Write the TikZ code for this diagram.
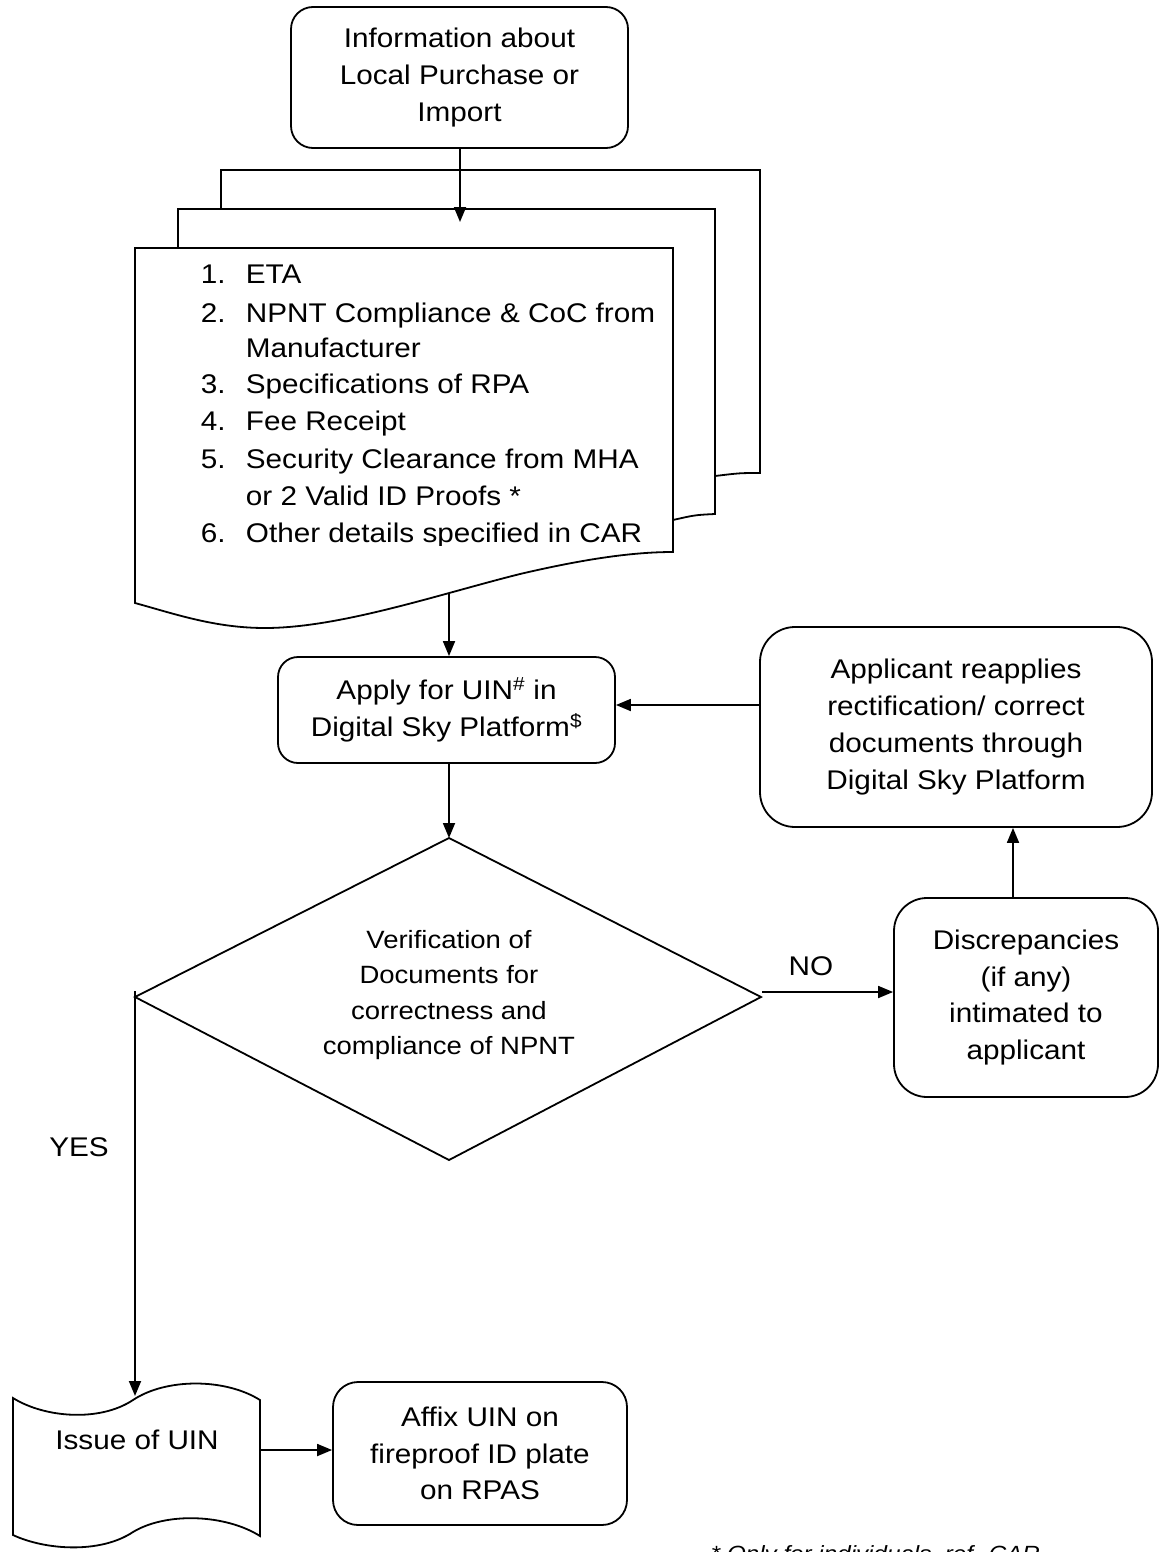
\documentclass[tikz,border=0pt]{standalone}
\usepackage{fontspec}
\setmainfont{Liberation Sans}[FakeStretch=1.1]
\usetikzlibrary{arrows.meta}
\begin{document}
\begin{tikzpicture}[x=1pt,y=-1pt,
  line width=1.8pt,
  every node/.style={font=\fontsize{27}{36.8}\selectfont, inner sep=0pt},
  rbox/.style={draw, rounded corners=22pt, align=center},
  arr/.style={-{Triangle[length=15pt,width=12pt]}},
  smallfont/.style={font=\fontsize{25}{35.3}\selectfont},
  footfont/.style={font=\fontsize{22}{26}\selectfont\itshape},
  ]
\useasboundingbox (0,0) rectangle (1162,1552);

% top box
\node[rbox, minimum width=337pt, minimum height=141pt] (info) at (459.5,77.5)
  {Information about\\Local Purchase or\\Import};

% stacked documents
\draw (221,209) -- (221,170) -- (760,170) -- (760,473) .. controls (740,473) .. (715,476);
\draw (178,248) -- (178,209) -- (715,209) -- (715,514) .. controls (695,515) .. (673,520);
\draw (135,248) -- (673,248) -- (673,552)
  .. controls (630,552) and (580,560) .. (520,574)
  .. controls (440,594) and (340,628) .. (265,628)
  .. controls (215,628) and (175,614) .. (135,603) -- cycle;
\coordinate (docin) at (460,222);
\coordinate (docbot) at (449,593);

\begin{scope}
\clip (136,249) rectangle (672,545);
\node[anchor=base west] (n1) at (200,283) {1.};
\node[anchor=base west] (t1) at (245,283) {ETA};
\node[anchor=base west] (n2) at (200,322) {2.};
\node[anchor=base west] (t2) at (245,322) {NPNT Compliance \& CoC from};
\node[anchor=base west] (t2b) at (245,357) {Manufacturer};
\node[anchor=base west] (n3) at (200,393) {3.};
\node[anchor=base west] (t3) at (245,393) {Specifications of RPA};
\node[anchor=base west] (n4) at (200,430) {4.};
\node[anchor=base west] (t4) at (245,430) {Fee Receipt};
\node[anchor=base west] (n5) at (200,468) {5.};
\node[anchor=base west] (t5) at (245,468) {Security Clearance from MHA};
\node[anchor=base west] (t5b) at (245,505) {or 2 Valid ID Proofs *};
\node[anchor=base west] (n6) at (200,542) {6.};
\node[anchor=base west] (t6) at (245,542) {Other details specified in CAR};
\end{scope}

% apply box
\node[rbox, rounded corners=20pt, minimum width=337pt, minimum height=106pt] (apply) at (446.5,710)
  {Apply for UIN\textsuperscript{\#} in\\Digital Sky Platform\textsuperscript{\$}};

% reapply box
\node[rbox, rounded corners=35pt, minimum width=392pt, minimum height=200pt] (reapply) at (956,727)
  {Applicant reapplies\\rectification/ correct\\documents through\\Digital Sky Platform};

% diamond
\draw (449,838) coordinate (dtop) -- (761,997) coordinate (dright)
  -- (449,1160) coordinate (dbot) -- (135,997) coordinate (dleft) -- cycle;
\node[smallfont, align=center] (dtext) at (449,995)
  {Verification of\\Documents for\\correctness and\\compliance of NPNT};

% discrepancies box
\node[rbox, rounded corners=33pt, minimum width=264pt, minimum height=199pt] (disc) at (1026,997.5)
  {Discrepancies\\(if any)\\intimated to\\applicant};

% issue of UIN
\draw (13,1398) .. controls (45,1418) and (100,1422) .. (133,1400)
  .. controls (166,1378) and (225,1378) .. (260,1400) -- (260,1536)
  .. controls (225,1514) and (166,1512) .. (133,1532)
  .. controls (100,1554) and (45,1550) .. (13,1535) -- cycle;
\coordinate (itop) at (135,1396);
\node (issue) at (137,1440) {Issue of UIN};

% affix box
\node[rbox, rounded corners=25pt, minimum width=294pt, minimum height=143pt] (affix) at (480,1453.5)
  {Affix UIN on\\fireproof ID plate\\on RPAS};

% labels
\node (no) at (811,966) {NO};
\node (yes) at (79,1147) {YES};
\node[footfont, anchor=base west] (foot) at (710,1561) {* Only for individuals, ref. CAR};

% connectors
\draw[arr] (info.south -| docin) -- (docin);
\draw[arr] (docbot) -- (docbot |- apply.north);
\draw[arr] (dtop |- apply.south) -- (dtop);
\coordinate (nostart) at (762,992);
\draw[arr] (nostart) -- (nostart -| disc.west);
\coordinate (up) at (1013,897);
\draw[arr] (up |- disc.north) -- (up |- reapply.south);
\coordinate (ra) at (760,705);
\draw[arr] (ra -| reapply.west) -- (ra -| apply.east);
\coordinate (ystart) at (135,991);
\draw[arr] (ystart) -- (itop);
\coordinate (ia) at (260,1450);
\draw[arr] (ia) -- (ia -| affix.west);
\end{tikzpicture}
\end{document}
